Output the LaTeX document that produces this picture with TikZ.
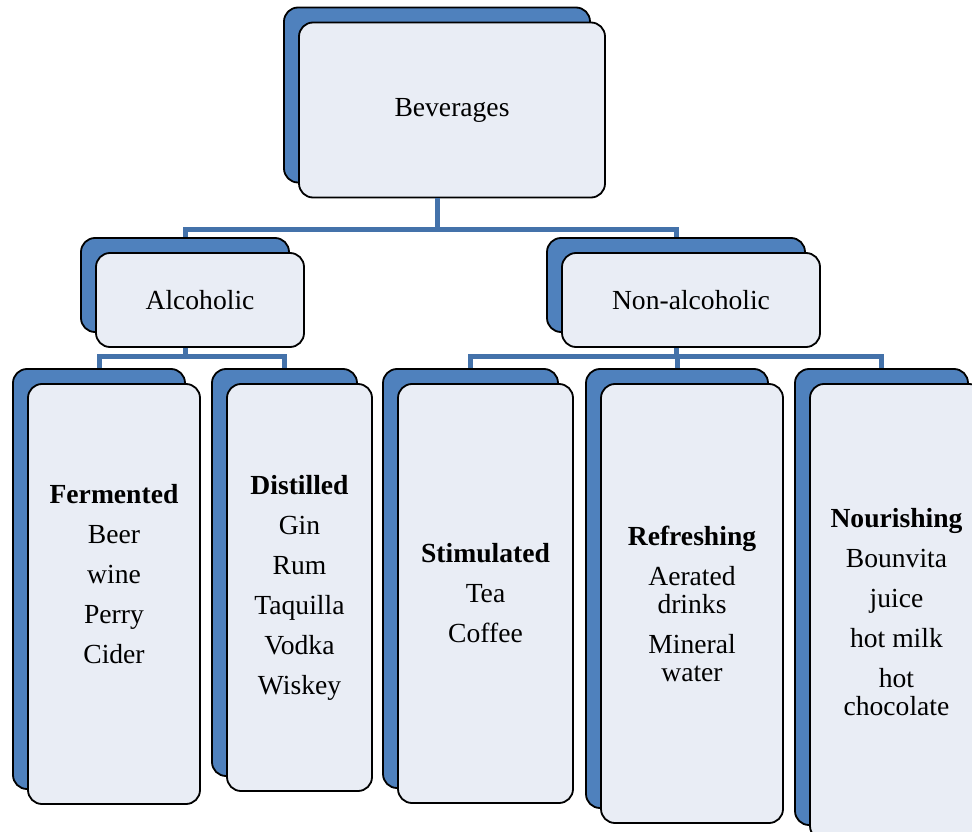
\documentclass[tikz,border=0pt]{standalone}
\usepackage{fontspec}
\setmainfont{Liberation Serif}
\usetikzlibrary{positioning}
\definecolor{boxblue}{RGB}{79,129,189}
\definecolor{linkblue}{RGB}{68,114,170}
\definecolor{boxface}{RGB}{233,237,245}

\begin{document}
\begin{tikzpicture}[x=1pt,y=-1pt,
  font=\fontsize{27.6}{28}\selectfont,
  back/.style={draw=black,line width=1.8pt,rounded corners=14pt,fill=boxblue,inner sep=0pt},
  face/.style={draw=black,line width=1.8pt,rounded corners=14pt,fill=boxface,align=center,inner sep=0pt},
  link/.style={draw=linkblue,line width=5pt}]
\useasboundingbox (0,0) rectangle (972,832);
\clip (0,0) rectangle (972,832);

% ---- root
\node[back,minimum width=306pt,minimum height=175pt] (bevB) at (437,95) {};
\node[face,minimum width=306pt,minimum height=175pt] (bev) at (452,110) {Beverages};

% ---- second level
\node[back,minimum width=208pt,minimum height=94pt] (alcB) at (185,285) {};
\node[face,minimum width=208pt,minimum height=94pt] (alc) at (200,300) {Alcoholic};
\node[back,minimum width=258pt,minimum height=94pt] (nonB) at (676,285) {};
\node[face,minimum width=258pt,minimum height=94pt] (non) at (691,300) {Non-alcoholic};

% ---- leaves
\node[back,minimum width=172pt,minimum height=420pt] (ferB) at (99,579) {};
\node[face,minimum width=172pt,minimum height=420pt] (fer) at (114,594)
  {\textbf{Fermented}\\[12pt]Beer\\[12pt]wine\\[12pt]Perry\\[12pt]Cider\\[12pt]~};
\node[back,minimum width=145pt,minimum height=407pt] (disB) at (284.5,572.5) {};
\node[face,minimum width=145pt,minimum height=407pt] (dis) at (299.5,587.5)
  {\textbf{Distilled}\\[12pt]Gin\\[12pt]Rum\\[12pt]Taquilla\\[12pt]Vodka\\[12pt]Wiskey};
\node[back,minimum width=175pt,minimum height=419pt] (stiB) at (470.5,578.5) {};
\node[face,minimum width=175pt,minimum height=419pt] (sti) at (485.5,593.5)
  {\textbf{Stimulated}\\[12pt]Tea\\[12pt]Coffee};
\node[back,minimum width=182pt,minimum height=439pt] (refB) at (677,588.5) {};
\node[face,minimum width=182pt,minimum height=439pt] (ref) at (692,603.5)
  {\textbf{Refreshing}\\[12pt]Aerated\\drinks\\[12pt]Mineral\\water};
\node[back,minimum width=173pt,minimum height=456pt] (nouB) at (881.5,597) {};
\node[face,minimum width=173pt,minimum height=456pt] (nou) at (896.5,612)
  {\textbf{Nourishing}\\[12pt]Bounvita\\[12pt]juice\\[12pt]hot milk\\[12pt]hot\\chocolate};

% ---- connectors
\draw[link] (bevB.south |- bev.south) -- ++(0,31) -| (alcB.north);
\draw[link] (bevB.south |- bev.south) -- ++(0,31) -| (nonB.north);
\draw[link] (alcB.south |- alc.south) -- ++(0,9) -| (ferB.north);
\draw[link] (alcB.south |- alc.south) -- ++(0,9) -| (disB.north);
\draw[link] (nonB.south |- non.south) -- ++(0,9) -| (stiB.north);
\draw[link] (nonB.south |- non.south) -- ++(0,9) -| (refB.north);
\draw[link] (nonB.south |- non.south) -- ++(0,9) -| (nouB.north);
\end{tikzpicture}
\end{document}
